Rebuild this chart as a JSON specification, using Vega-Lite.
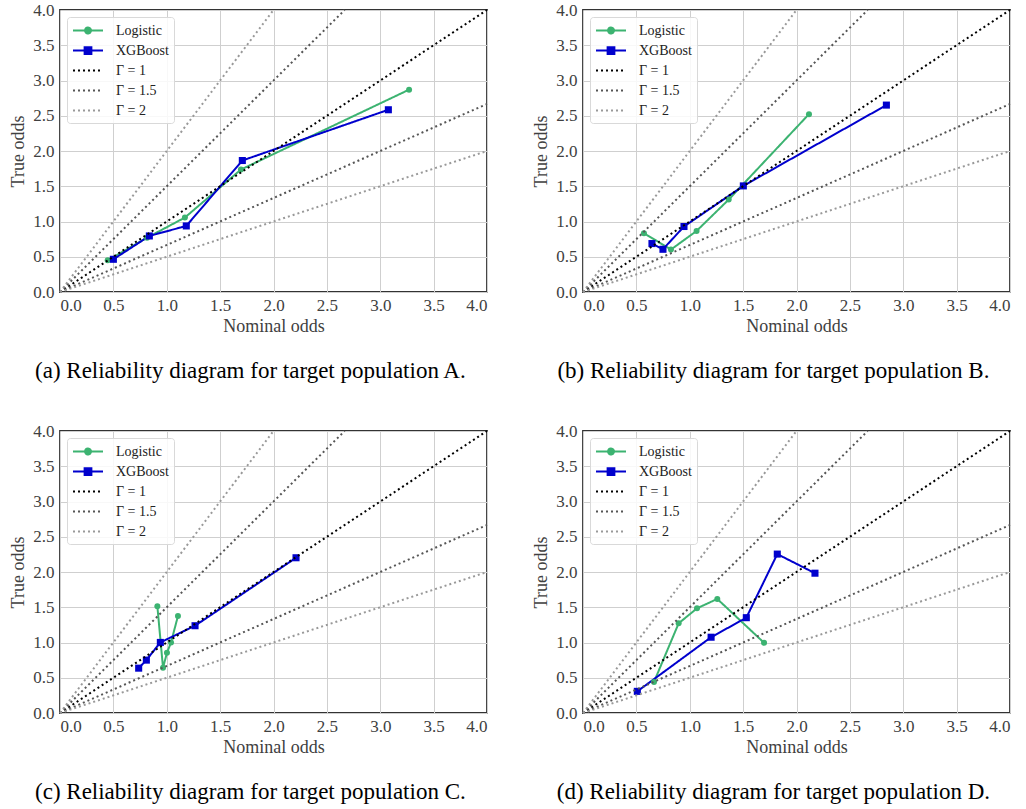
{
  "$schema": "https://vega.github.io/schema/vega-lite/v6.json",
  "background": "white",
  "padding": {"left": 8, "top": 0, "right": 5, "bottom": 5},
  "datasets": {
    "pts": [
      {"panel": "A", "series": "Logistic", "x": 0.447, "y": 0.45},
      {"panel": "A", "series": "Logistic", "x": 0.815, "y": 0.77},
      {"panel": "A", "series": "Logistic", "x": 1.17, "y": 1.056},
      {"panel": "A", "series": "Logistic", "x": 1.695, "y": 1.737},
      {"panel": "A", "series": "Logistic", "x": 3.27, "y": 2.87},
      {"panel": "A", "series": "XGBoost", "x": 0.5, "y": 0.464},
      {"panel": "A", "series": "XGBoost", "x": 0.837, "y": 0.795},
      {"panel": "A", "series": "XGBoost", "x": 1.183, "y": 0.937},
      {"panel": "A", "series": "XGBoost", "x": 1.708, "y": 1.865},
      {"panel": "A", "series": "XGBoost", "x": 3.076, "y": 2.585},
      {"panel": "B", "series": "Logistic", "x": 0.571, "y": 0.834},
      {"panel": "B", "series": "Logistic", "x": 0.824, "y": 0.602},
      {"panel": "B", "series": "Logistic", "x": 1.064, "y": 0.866},
      {"panel": "B", "series": "Logistic", "x": 1.365, "y": 1.311},
      {"panel": "B", "series": "Logistic", "x": 2.117, "y": 2.523},
      {"panel": "B", "series": "XGBoost", "x": 0.646, "y": 0.687},
      {"panel": "B", "series": "XGBoost", "x": 0.749, "y": 0.606},
      {"panel": "B", "series": "XGBoost", "x": 0.946, "y": 0.929},
      {"panel": "B", "series": "XGBoost", "x": 1.502, "y": 1.505},
      {"panel": "B", "series": "XGBoost", "x": 2.842, "y": 2.651},
      {"panel": "C", "series": "Logistic", "x": 0.912, "y": 1.514},
      {"panel": "C", "series": "Logistic", "x": 0.965, "y": 0.641},
      {"panel": "C", "series": "Logistic", "x": 1.002, "y": 0.854},
      {"panel": "C", "series": "Logistic", "x": 1.04, "y": 1.001},
      {"panel": "C", "series": "Logistic", "x": 1.105, "y": 1.376},
      {"panel": "C", "series": "XGBoost", "x": 0.737, "y": 0.636},
      {"panel": "C", "series": "XGBoost", "x": 0.809, "y": 0.75},
      {"panel": "C", "series": "XGBoost", "x": 0.94, "y": 1.001},
      {"panel": "C", "series": "XGBoost", "x": 1.265, "y": 1.238},
      {"panel": "C", "series": "XGBoost", "x": 2.211, "y": 2.202},
      {"panel": "D", "series": "Logistic", "x": 0.665, "y": 0.441},
      {"panel": "D", "series": "Logistic", "x": 0.896, "y": 1.272},
      {"panel": "D", "series": "Logistic", "x": 1.068, "y": 1.485},
      {"panel": "D", "series": "Logistic", "x": 1.258, "y": 1.618},
      {"panel": "D", "series": "Logistic", "x": 1.696, "y": 0.996},
      {"panel": "D", "series": "XGBoost", "x": 0.509, "y": 0.307},
      {"panel": "D", "series": "XGBoost", "x": 1.2, "y": 1.075},
      {"panel": "D", "series": "XGBoost", "x": 1.53, "y": 1.352},
      {"panel": "D", "series": "XGBoost", "x": 1.82, "y": 2.254},
      {"panel": "D", "series": "XGBoost", "x": 2.173, "y": 1.983}
    ],
    "ref": [
      {"series": "Γ = 1", "line": "g1", "x": 0, "y": 0},
      {"series": "Γ = 1", "line": "g1", "x": 4, "y": 4},
      {"series": "Γ = 1.5", "line": "g15u", "x": 0, "y": 0},
      {"series": "Γ = 1.5", "line": "g15u", "x": 2.6667, "y": 4},
      {"series": "Γ = 1.5", "line": "g15d", "x": 0, "y": 0},
      {"series": "Γ = 1.5", "line": "g15d", "x": 4, "y": 2.6667},
      {"series": "Γ = 2", "line": "g2u", "x": 0, "y": 0},
      {"series": "Γ = 2", "line": "g2u", "x": 2, "y": 4},
      {"series": "Γ = 2", "line": "g2d", "x": 0, "y": 0},
      {"series": "Γ = 2", "line": "g2d", "x": 4, "y": 2}
    ]
  },
  "config": {
    "font": "Liberation Serif",
    "view": {"stroke": "#333333", "strokeWidth": 1.8},
    "axis": {
      "grid": true, "gridColor": "#cfcfcf", "gridWidth": 1,
      "ticks": false, "domain": false, "labelOverlap": false, "tickCount": 9,
      "labelFont": "Liberation Serif", "labelFontSize": 17, "labelColor": "#404040",
      "titleFont": "Liberation Serif", "titleFontSize": 18, "titleFontWeight": "normal", "titleColor": "#404040"
    },
    "axisX": {"labelPadding": 5, "titlePadding": 4},
    "axisY": {"labelPadding": 6, "titlePadding": 5},
    "legend": {
      "orient": "top-left", "offset": 7, "padding": 5,
      "fillColor": "rgba(255,255,255,0.85)", "strokeColor": "#d9d9d9", "cornerRadius": 3,
      "labelFont": "Liberation Serif", "labelFontSize": 14, "labelColor": "#222222",
      "symbolSize": 225, "symbolStrokeWidth": 2, "rowPadding": 4, "labelOffset": 27
    },
    "title": {"orient": "bottom", "anchor": "middle", "frame": "bounds", "font": "Liberation Serif", "fontSize": 23, "fontWeight": "normal", "color": "#000000", "offset": 25}
  },
  "columns": 2,
  "spacing": {"row": 37, "column": 39},
  "resolve": {"scale": {"color": "independent", "strokeDash": "independent"}, "legend": {"color": "independent"}},
  "concat": [
    {
      "width": 427, "height": 282,
      "title": {"text": "(a) Reliability diagram for target population A."},
      "layer": [
        {"data": {"name": "pts"}, "transform": [{"filter": "datum.panel === 'A'"}],
         "mark": {"type": "line", "strokeWidth": 2},
         "encoding": {
           "x": {"field": "x", "type": "quantitative", "scale": {"domain": [0, 4], "nice": false}, "axis": {"values": [0, 0.5, 1, 1.5, 2, 2.5, 3, 3.5, 4], "format": ".1f", "title": "Nominal odds"}},
           "y": {"field": "y", "type": "quantitative", "scale": {"domain": [0, 4], "nice": false}, "axis": {"values": [0, 0.5, 1, 1.5, 2, 2.5, 3, 3.5, 4], "format": ".1f", "title": "True odds"}},
           "color": {"field": "series", "type": "nominal", "scale": {"domain": ["Logistic", "XGBoost", "Γ = 1", "Γ = 1.5", "Γ = 2"], "range": ["#3cb371", "#0000cd", "#000000", "#555555", "#999999"]},
             "legend": {"title": null, "encode": {"symbols": {"update": {
               "shape": {"signal": "datum.value === 'Logistic' ? 'M-1,0L3,0M0.6,0A0.4,0.4,0,1,0,1.4,0A0.4,0.4,0,1,0,0.6,0Z' : datum.value === 'XGBoost' ? 'M-1,0L3,0M0.55,-0.45L1.45,-0.45L1.45,0.45L0.55,0.45Z' : 'M-1,0L3,0'"},
               "fill": {"signal": "datum.value === 'Logistic' ? '#3cb371' : datum.value === 'XGBoost' ? '#0000cd' : 'transparent'"},
               "strokeDash": {"signal": "(datum.value === 'Logistic' || datum.value === 'XGBoost') ? [1, 0] : [2, 3]"},
               "strokeWidth": {"value": 2}
             }}}}},
           "strokeDash": {"field": "series", "type": "nominal", "scale": {"domain": ["Logistic", "XGBoost", "Γ = 1", "Γ = 1.5", "Γ = 2"], "range": [[1, 0], [1, 0], [2, 3], [2, 3], [2, 3]]}, "legend": null}
         }},
        {"data": {"name": "pts"}, "transform": [{"filter": "datum.panel === 'A' && datum.series === 'Logistic'"}],
         "mark": {"type": "point", "shape": "circle", "filled": true, "opacity": 1, "size": 36, "color": "#3cb371"},
         "encoding": {
           "x": {"field": "x", "type": "quantitative", "axis": {"values": [0, 0.5, 1, 1.5, 2, 2.5, 3, 3.5, 4], "format": ".1f", "title": "Nominal odds"}},
           "y": {"field": "y", "type": "quantitative", "axis": {"values": [0, 0.5, 1, 1.5, 2, 2.5, 3, 3.5, 4], "format": ".1f", "title": "True odds"}}}},
        {"data": {"name": "pts"}, "transform": [{"filter": "datum.panel === 'A' && datum.series === 'XGBoost'"}],
         "mark": {"type": "point", "shape": "square", "filled": true, "opacity": 1, "size": 50, "color": "#0000cd"},
         "encoding": {
           "x": {"field": "x", "type": "quantitative", "axis": {"values": [0, 0.5, 1, 1.5, 2, 2.5, 3, 3.5, 4], "format": ".1f", "title": "Nominal odds"}},
           "y": {"field": "y", "type": "quantitative", "axis": {"values": [0, 0.5, 1, 1.5, 2, 2.5, 3, 3.5, 4], "format": ".1f", "title": "True odds"}}}},
        {"data": {"name": "ref"},
         "mark": {"type": "line", "strokeWidth": 2},
         "encoding": {
           "x": {"field": "x", "type": "quantitative", "axis": {"values": [0, 0.5, 1, 1.5, 2, 2.5, 3, 3.5, 4], "format": ".1f", "title": "Nominal odds"}},
           "y": {"field": "y", "type": "quantitative", "axis": {"values": [0, 0.5, 1, 1.5, 2, 2.5, 3, 3.5, 4], "format": ".1f", "title": "True odds"}},
           "detail": {"field": "line", "type": "nominal"},
           "color": {"field": "series", "type": "nominal", "legend": null},
           "strokeDash": {"field": "series", "type": "nominal", "legend": null}
         }}
      ]
    },
    {
      "width": 427, "height": 282,
      "title": {"text": "(b) Reliability diagram for target population B."},
      "layer": [
        {"data": {"name": "pts"}, "transform": [{"filter": "datum.panel === 'B'"}],
         "mark": {"type": "line", "strokeWidth": 2},
         "encoding": {
           "x": {"field": "x", "type": "quantitative", "scale": {"domain": [0, 4], "nice": false}, "axis": {"values": [0, 0.5, 1, 1.5, 2, 2.5, 3, 3.5, 4], "format": ".1f", "title": "Nominal odds"}},
           "y": {"field": "y", "type": "quantitative", "scale": {"domain": [0, 4], "nice": false}, "axis": {"values": [0, 0.5, 1, 1.5, 2, 2.5, 3, 3.5, 4], "format": ".1f", "title": "True odds"}},
           "color": {"field": "series", "type": "nominal", "scale": {"domain": ["Logistic", "XGBoost", "Γ = 1", "Γ = 1.5", "Γ = 2"], "range": ["#3cb371", "#0000cd", "#000000", "#555555", "#999999"]},
             "legend": {"title": null, "encode": {"symbols": {"update": {
               "shape": {"signal": "datum.value === 'Logistic' ? 'M-1,0L3,0M0.6,0A0.4,0.4,0,1,0,1.4,0A0.4,0.4,0,1,0,0.6,0Z' : datum.value === 'XGBoost' ? 'M-1,0L3,0M0.55,-0.45L1.45,-0.45L1.45,0.45L0.55,0.45Z' : 'M-1,0L3,0'"},
               "fill": {"signal": "datum.value === 'Logistic' ? '#3cb371' : datum.value === 'XGBoost' ? '#0000cd' : 'transparent'"},
               "strokeDash": {"signal": "(datum.value === 'Logistic' || datum.value === 'XGBoost') ? [1, 0] : [2, 3]"},
               "strokeWidth": {"value": 2}
             }}}}},
           "strokeDash": {"field": "series", "type": "nominal", "scale": {"domain": ["Logistic", "XGBoost", "Γ = 1", "Γ = 1.5", "Γ = 2"], "range": [[1, 0], [1, 0], [2, 3], [2, 3], [2, 3]]}, "legend": null}
         }},
        {"data": {"name": "pts"}, "transform": [{"filter": "datum.panel === 'B' && datum.series === 'Logistic'"}],
         "mark": {"type": "point", "shape": "circle", "filled": true, "opacity": 1, "size": 36, "color": "#3cb371"},
         "encoding": {
           "x": {"field": "x", "type": "quantitative", "axis": {"values": [0, 0.5, 1, 1.5, 2, 2.5, 3, 3.5, 4], "format": ".1f", "title": "Nominal odds"}},
           "y": {"field": "y", "type": "quantitative", "axis": {"values": [0, 0.5, 1, 1.5, 2, 2.5, 3, 3.5, 4], "format": ".1f", "title": "True odds"}}}},
        {"data": {"name": "pts"}, "transform": [{"filter": "datum.panel === 'B' && datum.series === 'XGBoost'"}],
         "mark": {"type": "point", "shape": "square", "filled": true, "opacity": 1, "size": 50, "color": "#0000cd"},
         "encoding": {
           "x": {"field": "x", "type": "quantitative", "axis": {"values": [0, 0.5, 1, 1.5, 2, 2.5, 3, 3.5, 4], "format": ".1f", "title": "Nominal odds"}},
           "y": {"field": "y", "type": "quantitative", "axis": {"values": [0, 0.5, 1, 1.5, 2, 2.5, 3, 3.5, 4], "format": ".1f", "title": "True odds"}}}},
        {"data": {"name": "ref"},
         "mark": {"type": "line", "strokeWidth": 2},
         "encoding": {
           "x": {"field": "x", "type": "quantitative", "axis": {"values": [0, 0.5, 1, 1.5, 2, 2.5, 3, 3.5, 4], "format": ".1f", "title": "Nominal odds"}},
           "y": {"field": "y", "type": "quantitative", "axis": {"values": [0, 0.5, 1, 1.5, 2, 2.5, 3, 3.5, 4], "format": ".1f", "title": "True odds"}},
           "detail": {"field": "line", "type": "nominal"},
           "color": {"field": "series", "type": "nominal", "legend": null},
           "strokeDash": {"field": "series", "type": "nominal", "legend": null}
         }}
      ]
    },
    {
      "width": 427, "height": 282,
      "title": {"text": "(c) Reliability diagram for target population C."},
      "layer": [
        {"data": {"name": "pts"}, "transform": [{"filter": "datum.panel === 'C'"}],
         "mark": {"type": "line", "strokeWidth": 2},
         "encoding": {
           "x": {"field": "x", "type": "quantitative", "scale": {"domain": [0, 4], "nice": false}, "axis": {"values": [0, 0.5, 1, 1.5, 2, 2.5, 3, 3.5, 4], "format": ".1f", "title": "Nominal odds"}},
           "y": {"field": "y", "type": "quantitative", "scale": {"domain": [0, 4], "nice": false}, "axis": {"values": [0, 0.5, 1, 1.5, 2, 2.5, 3, 3.5, 4], "format": ".1f", "title": "True odds"}},
           "color": {"field": "series", "type": "nominal", "scale": {"domain": ["Logistic", "XGBoost", "Γ = 1", "Γ = 1.5", "Γ = 2"], "range": ["#3cb371", "#0000cd", "#000000", "#555555", "#999999"]},
             "legend": {"title": null, "encode": {"symbols": {"update": {
               "shape": {"signal": "datum.value === 'Logistic' ? 'M-1,0L3,0M0.6,0A0.4,0.4,0,1,0,1.4,0A0.4,0.4,0,1,0,0.6,0Z' : datum.value === 'XGBoost' ? 'M-1,0L3,0M0.55,-0.45L1.45,-0.45L1.45,0.45L0.55,0.45Z' : 'M-1,0L3,0'"},
               "fill": {"signal": "datum.value === 'Logistic' ? '#3cb371' : datum.value === 'XGBoost' ? '#0000cd' : 'transparent'"},
               "strokeDash": {"signal": "(datum.value === 'Logistic' || datum.value === 'XGBoost') ? [1, 0] : [2, 3]"},
               "strokeWidth": {"value": 2}
             }}}}},
           "strokeDash": {"field": "series", "type": "nominal", "scale": {"domain": ["Logistic", "XGBoost", "Γ = 1", "Γ = 1.5", "Γ = 2"], "range": [[1, 0], [1, 0], [2, 3], [2, 3], [2, 3]]}, "legend": null}
         }},
        {"data": {"name": "pts"}, "transform": [{"filter": "datum.panel === 'C' && datum.series === 'Logistic'"}],
         "mark": {"type": "point", "shape": "circle", "filled": true, "opacity": 1, "size": 36, "color": "#3cb371"},
         "encoding": {
           "x": {"field": "x", "type": "quantitative", "axis": {"values": [0, 0.5, 1, 1.5, 2, 2.5, 3, 3.5, 4], "format": ".1f", "title": "Nominal odds"}},
           "y": {"field": "y", "type": "quantitative", "axis": {"values": [0, 0.5, 1, 1.5, 2, 2.5, 3, 3.5, 4], "format": ".1f", "title": "True odds"}}}},
        {"data": {"name": "pts"}, "transform": [{"filter": "datum.panel === 'C' && datum.series === 'XGBoost'"}],
         "mark": {"type": "point", "shape": "square", "filled": true, "opacity": 1, "size": 50, "color": "#0000cd"},
         "encoding": {
           "x": {"field": "x", "type": "quantitative", "axis": {"values": [0, 0.5, 1, 1.5, 2, 2.5, 3, 3.5, 4], "format": ".1f", "title": "Nominal odds"}},
           "y": {"field": "y", "type": "quantitative", "axis": {"values": [0, 0.5, 1, 1.5, 2, 2.5, 3, 3.5, 4], "format": ".1f", "title": "True odds"}}}},
        {"data": {"name": "ref"},
         "mark": {"type": "line", "strokeWidth": 2},
         "encoding": {
           "x": {"field": "x", "type": "quantitative", "axis": {"values": [0, 0.5, 1, 1.5, 2, 2.5, 3, 3.5, 4], "format": ".1f", "title": "Nominal odds"}},
           "y": {"field": "y", "type": "quantitative", "axis": {"values": [0, 0.5, 1, 1.5, 2, 2.5, 3, 3.5, 4], "format": ".1f", "title": "True odds"}},
           "detail": {"field": "line", "type": "nominal"},
           "color": {"field": "series", "type": "nominal", "legend": null},
           "strokeDash": {"field": "series", "type": "nominal", "legend": null}
         }}
      ]
    },
    {
      "width": 427, "height": 282,
      "title": {"text": "(d) Reliability diagram for target population D."},
      "layer": [
        {"data": {"name": "pts"}, "transform": [{"filter": "datum.panel === 'D'"}],
         "mark": {"type": "line", "strokeWidth": 2},
         "encoding": {
           "x": {"field": "x", "type": "quantitative", "scale": {"domain": [0, 4], "nice": false}, "axis": {"values": [0, 0.5, 1, 1.5, 2, 2.5, 3, 3.5, 4], "format": ".1f", "title": "Nominal odds"}},
           "y": {"field": "y", "type": "quantitative", "scale": {"domain": [0, 4], "nice": false}, "axis": {"values": [0, 0.5, 1, 1.5, 2, 2.5, 3, 3.5, 4], "format": ".1f", "title": "True odds"}},
           "color": {"field": "series", "type": "nominal", "scale": {"domain": ["Logistic", "XGBoost", "Γ = 1", "Γ = 1.5", "Γ = 2"], "range": ["#3cb371", "#0000cd", "#000000", "#555555", "#999999"]},
             "legend": {"title": null, "encode": {"symbols": {"update": {
               "shape": {"signal": "datum.value === 'Logistic' ? 'M-1,0L3,0M0.6,0A0.4,0.4,0,1,0,1.4,0A0.4,0.4,0,1,0,0.6,0Z' : datum.value === 'XGBoost' ? 'M-1,0L3,0M0.55,-0.45L1.45,-0.45L1.45,0.45L0.55,0.45Z' : 'M-1,0L3,0'"},
               "fill": {"signal": "datum.value === 'Logistic' ? '#3cb371' : datum.value === 'XGBoost' ? '#0000cd' : 'transparent'"},
               "strokeDash": {"signal": "(datum.value === 'Logistic' || datum.value === 'XGBoost') ? [1, 0] : [2, 3]"},
               "strokeWidth": {"value": 2}
             }}}}},
           "strokeDash": {"field": "series", "type": "nominal", "scale": {"domain": ["Logistic", "XGBoost", "Γ = 1", "Γ = 1.5", "Γ = 2"], "range": [[1, 0], [1, 0], [2, 3], [2, 3], [2, 3]]}, "legend": null}
         }},
        {"data": {"name": "pts"}, "transform": [{"filter": "datum.panel === 'D' && datum.series === 'Logistic'"}],
         "mark": {"type": "point", "shape": "circle", "filled": true, "opacity": 1, "size": 36, "color": "#3cb371"},
         "encoding": {
           "x": {"field": "x", "type": "quantitative", "axis": {"values": [0, 0.5, 1, 1.5, 2, 2.5, 3, 3.5, 4], "format": ".1f", "title": "Nominal odds"}},
           "y": {"field": "y", "type": "quantitative", "axis": {"values": [0, 0.5, 1, 1.5, 2, 2.5, 3, 3.5, 4], "format": ".1f", "title": "True odds"}}}},
        {"data": {"name": "pts"}, "transform": [{"filter": "datum.panel === 'D' && datum.series === 'XGBoost'"}],
         "mark": {"type": "point", "shape": "square", "filled": true, "opacity": 1, "size": 50, "color": "#0000cd"},
         "encoding": {
           "x": {"field": "x", "type": "quantitative", "axis": {"values": [0, 0.5, 1, 1.5, 2, 2.5, 3, 3.5, 4], "format": ".1f", "title": "Nominal odds"}},
           "y": {"field": "y", "type": "quantitative", "axis": {"values": [0, 0.5, 1, 1.5, 2, 2.5, 3, 3.5, 4], "format": ".1f", "title": "True odds"}}}},
        {"data": {"name": "ref"},
         "mark": {"type": "line", "strokeWidth": 2},
         "encoding": {
           "x": {"field": "x", "type": "quantitative", "axis": {"values": [0, 0.5, 1, 1.5, 2, 2.5, 3, 3.5, 4], "format": ".1f", "title": "Nominal odds"}},
           "y": {"field": "y", "type": "quantitative", "axis": {"values": [0, 0.5, 1, 1.5, 2, 2.5, 3, 3.5, 4], "format": ".1f", "title": "True odds"}},
           "detail": {"field": "line", "type": "nominal"},
           "color": {"field": "series", "type": "nominal", "legend": null},
           "strokeDash": {"field": "series", "type": "nominal", "legend": null}
         }}
      ]
    }
  ]
}
